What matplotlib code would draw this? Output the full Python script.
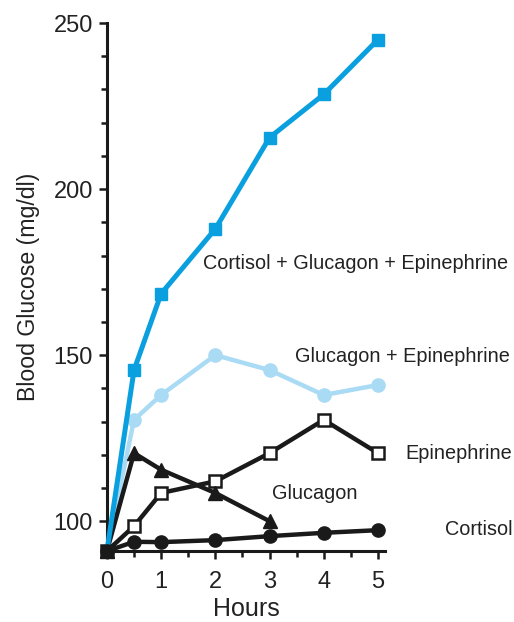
import matplotlib.pyplot as plt
from matplotlib.ticker import MultipleLocator

plt.rcParams['font.family'] = ['Liberation Sans', 'DejaVu Sans']

hours = [0, 0.5, 1, 2, 3, 4, 5]
hours_glucagon = [0, 0.5, 1, 2, 3]

all_three = [91, 145.5, 168.5, 188, 215.5, 228.5, 245]
gluc_epi = [91, 130.5, 138, 150, 145.5, 138, 141]
epinephrine = [91, 98.5, 108.5, 112, 120.5, 130.5, 120.5]
glucagon = [91, 120.5, 115.5, 108.5, 100]
cortisol = [91, 93.8, 93.7, 94.3, 95.5, 96.5, 97.3]

dark_blue = '#0aa0e0'
light_blue = '#a9dbf5'
ink = '#1a1a1a'

fig = plt.figure(figsize=(5.14, 6.22), dpi=100)
ax = fig.add_axes([0.208, 0.114, 0.541, 0.849])

lw = 3.2
skip0 = slice(1, None)
ax.plot(hours, gluc_epi, color=light_blue, lw=lw, marker='o', ms=9.5, markevery=skip0,
        clip_on=False, zorder=2)
ax.plot(hours, all_three, color=dark_blue, lw=lw + 0.4, marker='s', ms=9, markevery=skip0,
        clip_on=False, zorder=4)
ax.plot(hours, epinephrine, color=ink, lw=lw, marker='s', ms=9, mfc='white',
        mec=ink, mew=1.8, clip_on=False, zorder=3)
ax.plot(hours_glucagon, glucagon, color=ink, lw=lw, marker='^', ms=10.5, clip_on=False, zorder=3)
ax.plot(hours, cortisol, color=ink, lw=lw, marker='o', ms=9.5, clip_on=False, zorder=5)

fs = 14.3
tc = '#222222'
ax.text(1.78, 177.5, 'Cortisol + Glucagon + Epinephrine', fontsize=fs, va='center', color=tc)
ax.text(3.47, 149.7, 'Glucagon + Epinephrine', fontsize=fs, va='center', color=tc, clip_on=False)
ax.text(5.5, 120.4, 'Epinephrine', fontsize=fs, va='center', color=tc, clip_on=False)
ax.text(3.04, 108.4, 'Glucagon', fontsize=fs, va='center', color=tc)
ax.text(6.24, 97.6, 'Cortisol', fontsize=fs, va='center', color=tc, clip_on=False)

ax.set_xlim(0, 5.13)
ax.set_ylim(91, 250)
ax.set_xticks([0, 1, 2, 3, 4, 5])
ax.set_yticks([100, 150, 200, 250])
ax.xaxis.set_minor_locator(MultipleLocator(0.5))
ax.yaxis.set_minor_locator(MultipleLocator(10))

for side in ['top', 'right']:
    ax.spines[side].set_visible(False)
for side in ['left', 'bottom']:
    ax.spines[side].set_linewidth(2.2)
    ax.spines[side].set_color(ink)

ax.tick_params(which='major', length=6, width=1.8, labelsize=17, color=ink, labelcolor=tc)
ax.tick_params(which='minor', length=4, width=1.8, color=ink)
ax.tick_params(axis='x', which='major', pad=8)
ax.tick_params(axis='y', which='major', pad=4)
ax.set_xlabel('Hours', fontsize=18, labelpad=3, color=tc)
ax.set_ylabel('Blood Glucose (mg/dl)', fontsize=16.7, labelpad=10, color=tc)

fig.savefig('out.png', dpi=100)
